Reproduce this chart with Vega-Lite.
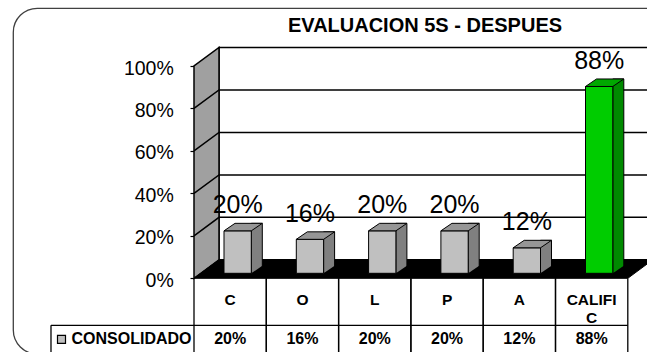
{
  "$schema": "https://vega.github.io/schema/vega-lite/v6.json",
  "width": 433.8,
  "height": 212.3,
  "autosize": {"type": "none"},
  "padding": {"left": 194, "top": 66, "right": 19.2, "bottom": 73.7},
  "background": "white",
  "config": {"view": {"stroke": null}, "font": "Liberation Sans"},
  "data": {"values": [
    {"cat": "C", "value": 0.20, "serie": "CONSOLIDADO"},
    {"cat": "O", "value": 0.16, "serie": "CONSOLIDADO"},
    {"cat": "L", "value": 0.20, "serie": "CONSOLIDADO"},
    {"cat": "P", "value": 0.20, "serie": "CONSOLIDADO"},
    {"cat": "A", "value": 0.12, "serie": "CONSOLIDADO"},
    {"cat": "CALIFIC", "value": 0.88, "serie": "CONSOLIDADO"}
  ]},
  "resolve": {"scale": {"x": "independent"}},
  "layer": [
    {
      "data": {"values": [{}]},
      "layer": [
        {
          "mark": {"type": "rect", "fill": "transparent", "stroke": "#404040", "strokeWidth": 1.3, "cornerRadius": 24},
          "encoding": {
            "x": {"datum": -2.4993, "type": "quantitative", "scale": {"domain": [0, 6], "nice": false, "zero": false}, "axis": null},
            "x2": {"datum": 7},
            "y": {"datum": 1.2718, "type": "quantitative", "scale": {"domain": [0, 1], "nice": false, "zero": false}},
            "y2": {"datum": -0.3566}
          }
        },
        {
          "mark": {"type": "text", "text": "EVALUACION 5S - DESPUES", "font": "Liberation Sans", "fontSize": 20, "fontWeight": "bold", "color": "black", "align": "center", "baseline": "alphabetic"},
          "encoding": {
            "x": {"datum": 3.195, "type": "quantitative", "scale": {"domain": [0, 6], "nice": false, "zero": false}, "axis": null},
            "y": {"datum": 1.1602, "type": "quantitative", "scale": {"domain": [0, 1], "nice": false, "zero": false}}
          }
        },
        {
          "mark": {"type": "rect", "fill": "white", "stroke": "black", "strokeWidth": 1.5, "xOffset": 25, "yOffset": -18.5, "y2Offset": -18.5},
          "encoding": {
            "x": {"datum": 0, "type": "quantitative", "scale": {"domain": [0, 6], "nice": false, "zero": false}, "axis": null},
            "x2": {"datum": 7},
            "y": {"datum": 1, "type": "quantitative", "scale": {"domain": [0, 1], "nice": false, "zero": false}},
            "y2": {"datum": 0}
          }
        },
        {
          "mark": {"type": "point", "shape": "M0,0L0,-212.3L25,-230.8L25,-18.5Z", "size": 4, "filled": true, "fill": "#a0a0a0", "stroke": "black", "strokeWidth": 1.5, "opacity": 1},
          "encoding": {
            "x": {"datum": 0, "type": "quantitative", "scale": {"domain": [0, 6], "nice": false, "zero": false}, "axis": null},
            "y": {"datum": 0, "type": "quantitative", "scale": {"domain": [0, 1], "nice": false, "zero": false}}
          }
        },
        {
          "mark": {"type": "point", "shape": "M0,0L25,-18.5L470,-18.5", "size": 4, "filled": false, "fill": "transparent", "stroke": "black", "strokeWidth": 1.5, "opacity": 1},
          "encoding": {
            "x": {"datum": 0, "type": "quantitative", "scale": {"domain": [0, 6], "nice": false, "zero": false}, "axis": null},
            "y": {"datum": 0.2, "type": "quantitative", "scale": {"domain": [0, 1], "nice": false, "zero": false}}
          }
        },
        {
          "mark": {"type": "point", "shape": "M0,0L25,-18.5L470,-18.5", "size": 4, "filled": false, "fill": "transparent", "stroke": "black", "strokeWidth": 1.5, "opacity": 1},
          "encoding": {
            "x": {"datum": 0, "type": "quantitative", "scale": {"domain": [0, 6], "nice": false, "zero": false}, "axis": null},
            "y": {"datum": 0.4, "type": "quantitative", "scale": {"domain": [0, 1], "nice": false, "zero": false}}
          }
        },
        {
          "mark": {"type": "point", "shape": "M0,0L25,-18.5L470,-18.5", "size": 4, "filled": false, "fill": "transparent", "stroke": "black", "strokeWidth": 1.5, "opacity": 1},
          "encoding": {
            "x": {"datum": 0, "type": "quantitative", "scale": {"domain": [0, 6], "nice": false, "zero": false}, "axis": null},
            "y": {"datum": 0.6, "type": "quantitative", "scale": {"domain": [0, 1], "nice": false, "zero": false}}
          }
        },
        {
          "mark": {"type": "point", "shape": "M0,0L25,-18.5L470,-18.5", "size": 4, "filled": false, "fill": "transparent", "stroke": "black", "strokeWidth": 1.5, "opacity": 1},
          "encoding": {
            "x": {"datum": 0, "type": "quantitative", "scale": {"domain": [0, 6], "nice": false, "zero": false}, "axis": null},
            "y": {"datum": 0.8, "type": "quantitative", "scale": {"domain": [0, 1], "nice": false, "zero": false}}
          }
        },
        {
          "mark": {"type": "point", "shape": "M0,0L433.8,0L458.8,-18.5L25,-18.5Z", "size": 4, "filled": true, "fill": "black", "stroke": "black", "strokeWidth": 1, "opacity": 1},
          "encoding": {
            "x": {"datum": 0, "type": "quantitative", "scale": {"domain": [0, 6], "nice": false, "zero": false}, "axis": null},
            "y": {"datum": 0, "type": "quantitative", "scale": {"domain": [0, 1], "nice": false, "zero": false}}
          }
        },
        {
          "mark": {"type": "rule", "color": "black", "strokeWidth": 1.3},
          "encoding": {
            "x": {"datum": -1.978, "type": "quantitative", "scale": {"domain": [0, 6], "nice": false, "zero": false}, "axis": null},
            "x2": {"datum": 6},
            "y": {"datum": -0.2214, "type": "quantitative", "scale": {"domain": [0, 1], "nice": false, "zero": false}}
          }
        },
        {
          "mark": {"type": "rule", "color": "black", "strokeWidth": 1.3},
          "encoding": {
            "x": {"datum": -1.978, "type": "quantitative", "scale": {"domain": [0, 6], "nice": false, "zero": false}, "axis": null},
            "y": {"datum": -0.2214, "type": "quantitative", "scale": {"domain": [0, 1], "nice": false, "zero": false}},
            "y2": {"datum": -0.4}
          }
        }
      ]
    },
    {
      "layer": [
        {
          "mark": {"type": "bar", "width": 11, "xOffset": 26.65, "yOffset": -12.5, "y2Offset": -5, "stroke": "black", "strokeWidth": 1},
          "encoding": {
            "x": {"field": "cat", "type": "nominal", "scale": {"domain": ["C", "O", "L", "P", "A", "CALIFIC"], "paddingInner": 0, "paddingOuter": 0}},
            "y": {"field": "value", "type": "quantitative", "scale": {"domain": [0, 1], "nice": false, "zero": false}},
            "y2": {"datum": 0},
            "fill": {"condition": {"test": "datum.cat === 'CALIFIC'", "value": "#008a00"}, "value": "#808080"}
          }
        },
        {
          "mark": {"type": "point", "shape": "M13.65,0L24.65,-7.5L26,-7.5L26,1.5L13.65,1.5Z", "size": 4, "filled": true, "fill": "black", "strokeWidth": 0, "opacity": 1, "xOffset": 7.5, "yOffset": -5},
          "encoding": {
            "x": {"field": "cat", "type": "nominal"},
            "y": {"datum": 0, "type": "quantitative", "scale": {"domain": [0, 1], "nice": false, "zero": false}}
          }
        },
        {
          "mark": {"type": "bar", "width": 27.3, "xOffset": 7.5, "yOffset": -5, "y2Offset": -5, "stroke": "black", "strokeWidth": 1},
          "encoding": {
            "x": {"field": "cat", "type": "nominal", "scale": {"domain": ["C", "O", "L", "P", "A", "CALIFIC"], "paddingInner": 0, "paddingOuter": 0},
              "axis": {"title": null, "domain": false, "ticks": false, "labelAngle": 0, "labelAlign": "center", "labelPadding": 13.7, "labelBaseline": "top", "labelLineHeight": 18.3, "labelFont": "Liberation Sans", "labelFontSize": 15.5, "labelFontWeight": "bold", "labelColor": "black", "labelExpr": "datum.label == 'CALIFIC' ? ['CALIFI', 'C'] : datum.label"}},
            "y": {"field": "value", "type": "quantitative", "scale": {"domain": [0, 1], "nice": false, "zero": false},
              "axis": {"title": null, "values": [0, 0.2, 0.4, 0.6, 0.8, 1], "format": ".0%", "grid": false, "domain": false, "tickColor": "black", "tickSize": 4, "tickWidth": 1.2, "labelPadding": 16.7, "labelFont": "Liberation Sans", "labelFontSize": 19.5, "labelColor": "black", "labelOffset": 2}},
            "y2": {"datum": 0},
            "fill": {"field": "serie", "type": "nominal", "scale": {"range": ["#c0c0c0"]},
              "condition": {"test": "datum.cat === 'CALIFIC'", "value": "#00cc00"},
              "legend": {"orient": "none", "legendX": -140.5, "legendY": 265.3, "title": null, "padding": 0, "symbolType": "square", "symbolSize": 64, "symbolStrokeColor": "black", "symbolStrokeWidth": 1.2, "labelFont": "Liberation Sans", "labelFontSize": 16, "labelFontWeight": "bold", "labelColor": "black", "labelOffset": 2}}
          }
        },
        {
          "mark": {"type": "point", "shape": "M-13.65,0L13.65,0L24.65,-7.5L-2.65,-7.5Z", "size": 4, "filled": true, "stroke": "black", "strokeWidth": 1, "opacity": 1, "xOffset": 7.5, "yOffset": -5},
          "encoding": {
            "x": {"field": "cat", "type": "nominal"},
            "y": {"field": "value", "type": "quantitative", "scale": {"domain": [0, 1], "nice": false, "zero": false}},
            "fill": {"condition": {"test": "datum.cat === 'CALIFIC'", "value": "#00a800"}, "value": "#969696"}
          }
        },
        {
          "mark": {"type": "text", "font": "Liberation Sans", "fontSize": 25, "color": "black", "align": "center", "baseline": "alphabetic", "xOffset": 7.5, "yOffset": -22.7},
          "encoding": {
            "x": {"field": "cat", "type": "nominal"},
            "y": {"field": "value", "type": "quantitative", "scale": {"domain": [0, 1], "nice": false, "zero": false}},
            "text": {"field": "value", "type": "quantitative", "format": ".0%"}
          }
        },
        {
          "mark": {"type": "text", "font": "Liberation Sans", "fontSize": 16, "fontWeight": "bold", "color": "black", "align": "center", "baseline": "middle"},
          "encoding": {
            "x": {"field": "cat", "type": "nominal"},
            "y": {"datum": -0.2868, "type": "quantitative", "scale": {"domain": [0, 1], "nice": false, "zero": false}},
            "text": {"field": "value", "type": "quantitative", "format": ".0%"}
          }
        },
        {
          "mark": {"type": "rule", "color": "black", "strokeWidth": 1.3},
          "encoding": {
            "x": {"field": "cat", "type": "nominal", "bandPosition": 0},
            "y": {"datum": 0, "type": "quantitative", "scale": {"domain": [0, 1], "nice": false, "zero": false}},
            "y2": {"datum": -0.4}
          }
        },
        {
          "mark": {"type": "rule", "color": "black", "strokeWidth": 1.3},
          "encoding": {
            "x": {"field": "cat", "type": "nominal", "bandPosition": 1},
            "y": {"datum": 0, "type": "quantitative", "scale": {"domain": [0, 1], "nice": false, "zero": false}},
            "y2": {"datum": -0.4}
          }
        }
      ]
    }
  ]
}
